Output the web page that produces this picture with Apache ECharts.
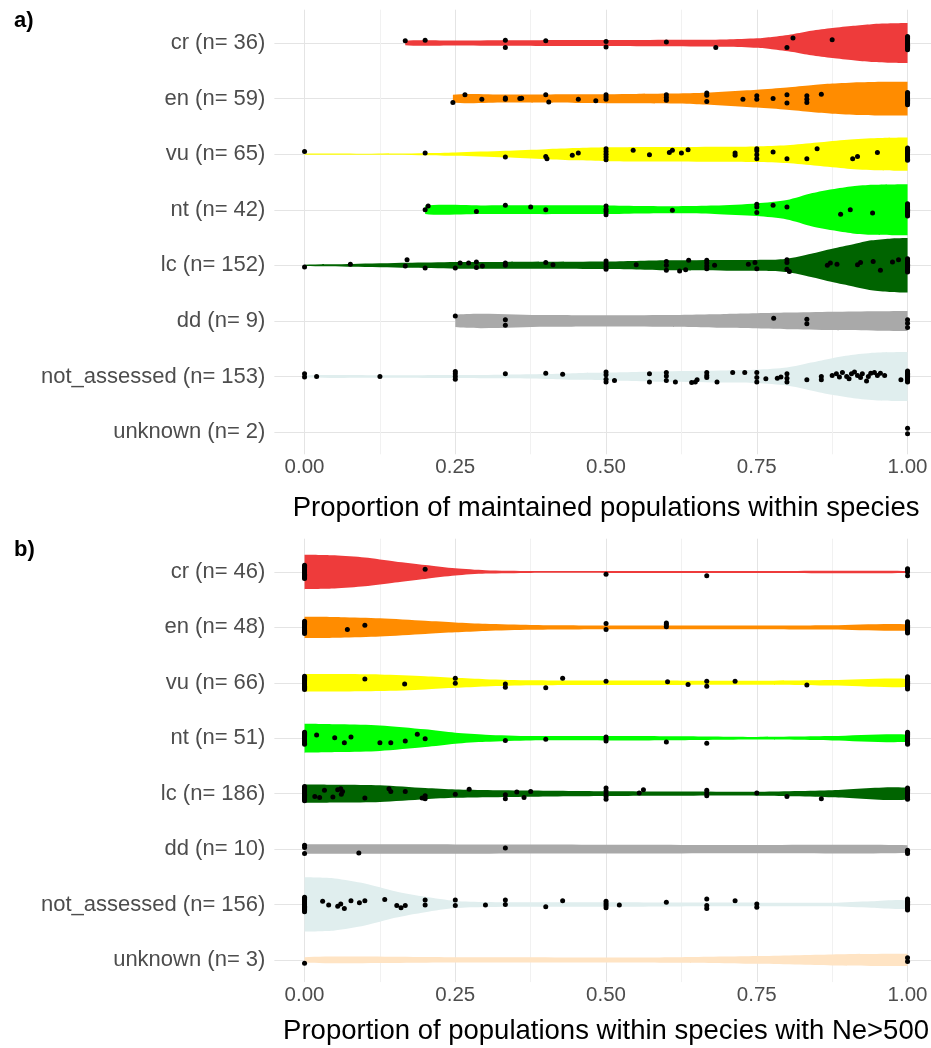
<!DOCTYPE html>
<html><head><meta charset="utf-8">
<script src="https://cdn.jsdelivr.net/npm/echarts@6/dist/echarts.min.js"></script>
<style>html,body{margin:0;padding:0;background:#fff}#c{width:931px;height:1048px}</style>
</head><body><div id="c"></div>
<script>
// ---------- categories / labels ----------
const catsA = ['cr (n= 36)','en (n= 59)','vu (n= 65)','nt (n= 42)','lc (n= 152)','dd (n= 9)','not_assessed (n= 153)','unknown (n= 2)'];
const catsB = ['cr (n= 46)','en (n= 48)','vu (n= 66)','nt (n= 51)','lc (n= 186)','dd (n= 10)','not_assessed (n= 156)','unknown (n= 3)'];
const catColors = ['#EE3B3B','#FF8C00','#FFFF00','#00FF00','#006400','#A9A9A9','#E0EEEE','#FFE4C4'];
const xTitleA = 'Proportion of maintained populations within species';
const xTitleB = 'Proportion of populations within species with Ne>500';
const xTickValues = [0, 0.25, 0.5, 0.75, 1];

// ---------- violin outlines: [x, half-width in row units] ----------
const violinA_cr = [[0.167,0.04],[0.25,0.045],[0.333,0.05],[0.45,0.055],[0.55,0.057],[0.65,0.06],[0.7,0.065],[0.75,0.085],[0.775,0.11],[0.81,0.16],[0.84,0.22],[0.875,0.27],[0.91,0.31],[0.94,0.34],[0.975,0.355],[1,0.36]];
const violinA_en = [[0.246,0.07],[0.333,0.072],[0.45,0.078],[0.55,0.085],[0.65,0.1],[0.75,0.16],[0.8,0.2],[0.84,0.24],[0.875,0.27],[0.92,0.295],[0.96,0.305],[1,0.305]];
const violinA_vu = [[0,0.008],[0.1,0.01],[0.2,0.018],[0.25,0.03],[0.333,0.06],[0.4,0.09],[0.45,0.11],[0.5,0.125],[0.6,0.13],[0.7,0.135],[0.75,0.14],[0.8,0.16],[0.85,0.21],[0.9,0.26],[0.95,0.29],[1,0.3]];
const violinA_nt = [[0.2,0.075],[0.3,0.078],[0.4,0.08],[0.5,0.078],[0.56,0.068],[0.62,0.064],[0.68,0.075],[0.75,0.114],[0.8,0.174],[0.842,0.3],[0.875,0.37],[0.909,0.425],[0.942,0.45],[1,0.46]];
const violinA_lc = [[0,0.012],[0.08,0.025],[0.17,0.045],[0.25,0.06],[0.333,0.062],[0.5,0.067],[0.6,0.09],[0.7,0.097],[0.77,0.1],[0.8,0.12],[0.84,0.21],[0.875,0.3],[0.91,0.38],[0.94,0.45],[0.97,0.48],[1,0.49]];
const violinA_dd = [[0.25,0.11],[0.4,0.105],[0.5,0.1],[0.6,0.105],[0.7,0.125],[0.8,0.15],[0.875,0.165],[0.95,0.175],[1,0.18]];
const violinA_na = [[0,0.02],[0.125,0.022],[0.25,0.027],[0.333,0.033],[0.4,0.045],[0.45,0.06],[0.5,0.07],[0.6,0.095],[0.7,0.11],[0.75,0.12],[0.8,0.16],[0.84,0.25],[0.875,0.33],[0.91,0.39],[0.95,0.43],[1,0.44]];
const violinA_unk = [];

const violinB_cr = [[0,0.31],[0.05,0.3],[0.1,0.26],[0.15,0.19],[0.2,0.125],[0.25,0.065],[0.3,0.03],[0.375,0.017],[0.5,0.018],[0.75,0.018],[1,0.018]];
const violinB_en = [[0,0.19],[0.06,0.185],[0.125,0.165],[0.2,0.12],[0.25,0.09],[0.3,0.065],[0.375,0.045],[0.5,0.035],[0.6,0.032],[0.75,0.033],[0.875,0.04],[1,0.055]];
const violinB_vu = [[0,0.16],[0.06,0.158],[0.125,0.15],[0.2,0.12],[0.25,0.09],[0.3,0.065],[0.375,0.045],[0.5,0.04],[0.625,0.038],[0.75,0.036],[0.875,0.05],[1,0.07]];
const violinB_nt = [[0,0.26],[0.06,0.25],[0.125,0.23],[0.2,0.16],[0.25,0.1],[0.3,0.065],[0.375,0.04],[0.5,0.04],[0.625,0.036],[0.75,0.024],[0.875,0.04],[1,0.065]];
const violinB_lc = [[0,0.165],[0.06,0.16],[0.125,0.15],[0.2,0.1],[0.25,0.075],[0.375,0.055],[0.5,0.042],[0.625,0.038],[0.75,0.036],[0.875,0.063],[1,0.105]];
const violinB_dd = [[0,0.085],[0.25,0.083],[0.5,0.08],[0.75,0.075],[1,0.07]];
const violinB_na = [[0,0.49],[0.05,0.47],[0.1,0.38],[0.15,0.24],[0.2,0.14],[0.25,0.065],[0.3,0.045],[0.375,0.04],[0.5,0.04],[0.625,0.035],[0.75,0.033],[0.875,0.033],[0.94,0.06],[1,0.072]];
const violinB_unk = [[0,0.05],[0.25,0.048],[0.5,0.045],[0.625,0.05],[0.75,0.07],[0.875,0.1],[1,0.11]];

// ---------- jittered points: [x, vertical jitter in row units] ----------
const ptsA_cr = [[0.167,0.04],[0.2,0.05],[0.333,0.05],[0.333,-0.08],[0.4,0.04],[0.5,0.03],[0.5,-0.07],[0.6,0.02],[0.682,-0.08],[0.8,-0.08],[0.81,0.09],[0.875,0.06],[1,0.12],[1,0.1],[1,0.08],[1,0.06],[1,0.04],[1,0.02],[1,0],[1,-0.02],[1,-0.04],[1,-0.06],[1,-0.08],[1,-0.1],[1,-0.12]];
const ptsA_en = [[0.246,-0.07],[0.266,0.07],[0.294,-0.01],[0.333,-0.01],[0.333,0.01],[0.357,0],[0.36,0.005],[0.4,0.07],[0.405,-0.06],[0.454,-0.01],[0.483,-0.04],[0.5,0.07],[0.5,0.03],[0.5,-0.01],[0.6,0.07],[0.6,0.02],[0.6,-0.03],[0.667,0.1],[0.667,0.06],[0.667,-0.05],[0.727,-0.01],[0.75,0.05],[0.75,-0.01],[0.777,0],[0.8,0.07],[0.8,-0.08],[0.833,0.05],[0.833,-0.01],[0.833,-0.07],[0.857,0.08],[1,0.11],[1,0.09],[1,0.07],[1,0.05],[1,0.03],[1,0.01],[1,-0.01],[1,-0.03],[1,-0.05],[1,-0.07],[1,-0.09],[1,-0.11]];
const ptsA_vu = [[0,0.05],[0.2,0.02],[0.333,-0.05],[0.4,-0.04],[0.402,-0.08],[0.444,-0.02],[0.454,0.02],[0.5,0.1],[0.5,0.05],[0.5,0],[0.5,-0.05],[0.5,-0.1],[0.545,0.07],[0.572,-0.01],[0.605,0.03],[0.61,0.07],[0.625,0.02],[0.636,0.08],[0.714,0.02],[0.714,-0.02],[0.75,0.1],[0.75,0.06],[0.75,-0.01],[0.75,-0.08],[0.777,0.04],[0.8,-0.08],[0.833,-0.08],[0.85,0.1],[0.909,-0.08],[0.917,-0.04],[0.95,0.03],[1,0.11],[1,0.09],[1,0.07],[1,0.05],[1,0.03],[1,0.01],[1,-0.01],[1,-0.03],[1,-0.05],[1,-0.07],[1,-0.09],[1,-0.11]];
const ptsA_nt = [[0.2,0],[0.205,0.07],[0.285,-0.03],[0.333,0.08],[0.375,0.05],[0.4,0],[0.5,0.07],[0.5,0.01],[0.5,-0.03],[0.5,-0.09],[0.61,-0.01],[0.75,0.1],[0.75,0.05],[0.75,-0.05],[0.777,0.08],[0.8,0.05],[0.889,-0.08],[0.905,0],[0.942,-0.06],[1,0.11],[1,0.09],[1,0.07],[1,0.05],[1,0.03],[1,0.01],[1,-0.01],[1,-0.03],[1,-0.05],[1,-0.07],[1,-0.09],[1,-0.11]];
const ptsA_lc = [[0,-0.03],[0.076,0.02],[0.167,-0.01],[0.17,0.1],[0.2,-0.05],[0.25,-0.05],[0.258,0.04],[0.272,0.04],[0.285,0.06],[0.285,-0.04],[0.295,-0.01],[0.333,0.04],[0.333,0],[0.4,0.05],[0.412,0.01],[0.5,0.08],[0.5,0.03],[0.5,-0.02],[0.5,-0.07],[0.55,0.01],[0.6,0.07],[0.6,0],[0.6,-0.09],[0.622,-0.1],[0.632,-0.08],[0.637,0.09],[0.667,0.09],[0.667,0.04],[0.667,-0.01],[0.667,-0.06],[0.68,0],[0.736,0.02],[0.747,0.05],[0.75,-0.06],[0.8,0.1],[0.8,0.05],[0.8,-0.07],[0.804,-0.11],[0.867,0],[0.872,0.04],[0.883,0.02],[0.917,0.01],[0.922,0.05],[0.943,0.07],[0.955,-0.09],[0.975,0.06],[0.985,0.1],[1,0.12],[1,0.1],[1,0.08],[1,0.06],[1,0.04],[1,0.02],[1,0],[1,-0.02],[1,-0.04],[1,-0.06],[1,-0.08],[1,-0.1],[1,-0.12]];
const ptsA_dd = [[0.25,0.09],[0.333,0.02],[0.333,-0.08],[0.778,0.05],[0.833,0.03],[0.833,-0.05],[1,0.02],[1,-0.04],[1,-0.12]];
const ptsA_na = [[0,0.05],[0,-0.01],[0.02,0],[0.125,0],[0.25,0.09],[0.25,0.05],[0.25,0],[0.25,-0.05],[0.333,0.05],[0.4,0.06],[0.428,0.04],[0.5,0.08],[0.5,0.03],[0.5,-0.05],[0.5,-0.1],[0.514,-0.07],[0.572,0.05],[0.572,-0.1],[0.6,0.07],[0.6,0.01],[0.6,-0.07],[0.615,-0.1],[0.642,-0.11],[0.648,-0.1],[0.651,-0.06],[0.667,0.07],[0.667,0.02],[0.667,-0.02],[0.684,-0.1],[0.71,0.07],[0.73,0.07],[0.75,0.07],[0.75,-0.02],[0.75,-0.1],[0.765,-0.04],[0.784,-0.03],[0.79,-0.01],[0.8,0.05],[0.8,-0.03],[0.8,-0.1],[0.833,-0.06],[0.857,-0.06],[0.857,0],[0.875,0.02],[0.882,0.05],[0.887,-0.01],[0.892,0.07],[0.899,0],[0.903,-0.04],[0.907,0.05],[0.912,0.08],[0.917,0.02],[0.922,-0.02],[0.925,0.05],[0.932,-0.08],[0.935,0],[0.939,0.06],[0.945,0.07],[0.95,0.02],[0.955,0.06],[0.962,0.02],[0.989,-0.06],[1,0.1],[1,0.08],[1,0.06],[1,0.04],[1,0.02],[1,0],[1,-0.02],[1,-0.04],[1,-0.06],[1,-0.08],[1,-0.1]];
const ptsA_unk = [[1,0.07],[1,-0.03]];

const ptsB_cr = [[0,0.12],[0,0.1],[0,0.08],[0,0.06],[0,0.04],[0,0.02],[0,0],[0,-0.02],[0,-0.04],[0,-0.06],[0,-0.08],[0,-0.1],[0,-0.12],[0.2,0.05],[0.5,-0.04],[0.667,-0.07],[1,0.06],[1,0.04],[1,0],[1,-0.07]];
const ptsB_en = [[0,0.11],[0,0.09],[0,0.07],[0,0.05],[0,0.03],[0,0.01],[0,-0.01],[0,-0.03],[0,-0.05],[0,-0.07],[0,-0.09],[0,-0.11],[0.071,-0.04],[0.1,0.04],[0.5,0.07],[0.5,-0.04],[0.6,0.08],[0.6,0.05],[0.6,0.01],[1,0.1],[1,0.08],[1,0.06],[1,0.04],[1,0.02],[1,0],[1,-0.02],[1,-0.04],[1,-0.06],[1,-0.08],[1,-0.1]];
const ptsB_vu = [[0,0.12],[0,0.1],[0,0.08],[0,0.06],[0,0.04],[0,0.02],[0,0],[0,-0.02],[0,-0.04],[0,-0.06],[0,-0.08],[0,-0.1],[0,-0.12],[0.1,0.07],[0.166,-0.02],[0.25,0.08],[0.25,-0.01],[0.333,-0.02],[0.333,-0.08],[0.4,-0.09],[0.428,0.08],[0.5,0.03],[0.602,0.02],[0.636,-0.03],[0.667,0.03],[0.667,-0.06],[0.714,0.03],[0.833,-0.04],[1,0.11],[1,0.09],[1,0.07],[1,0.05],[1,0.03],[1,0.01],[1,-0.01],[1,-0.03],[1,-0.05],[1,-0.07],[1,-0.09],[1,-0.11]];
const ptsB_nt = [[0,0.11],[0,0.09],[0,0.07],[0,0.05],[0,0.03],[0,0.01],[0,-0.01],[0,-0.03],[0,-0.05],[0,-0.07],[0,-0.09],[0,-0.11],[0.02,0.06],[0.05,0.01],[0.066,-0.08],[0.077,0.02],[0.125,-0.08],[0.143,-0.08],[0.167,-0.05],[0.187,0.07],[0.2,-0.01],[0.333,-0.04],[0.4,-0.02],[0.5,0.02],[0.5,-0.01],[0.5,-0.05],[0.6,-0.07],[0.667,-0.09],[1,0.11],[1,0.09],[1,0.07],[1,0.05],[1,0.03],[1,0.01],[1,-0.01],[1,-0.03],[1,-0.05],[1,-0.07],[1,-0.09],[1,-0.11]];
const ptsB_lc = [[0,0.13],[0,0.11],[0,0.09],[0,0.07],[0,0.05],[0,0.03],[0,0.01],[0,-0.01],[0,-0.03],[0,-0.05],[0,-0.07],[0,-0.09],[0,-0.11],[0,-0.13],[0.017,-0.05],[0.025,-0.07],[0.033,0.06],[0.047,-0.06],[0.055,0.07],[0.06,0.09],[0.063,0.04],[0.061,-0.01],[0.1,-0.08],[0.14,0.09],[0.143,0.04],[0.167,0.04],[0.195,-0.08],[0.2,-0.04],[0.2,-0.09],[0.25,-0.01],[0.273,0.08],[0.333,-0.02],[0.333,-0.09],[0.352,0.03],[0.364,-0.07],[0.375,0.04],[0.5,0.1],[0.5,0.05],[0.5,0],[0.5,-0.05],[0.5,-0.1],[0.555,0.01],[0.562,0.07],[0.667,0.06],[0.667,0.01],[0.667,-0.04],[0.75,0.01],[0.8,-0.05],[0.857,-0.09],[1,0.1],[1,0.08],[1,0.06],[1,0.04],[1,0.02],[1,0],[1,-0.02],[1,-0.04],[1,-0.06],[1,-0.08],[1,-0.1]];
const ptsB_dd = [[0,0.07],[0,0.03],[0,-0.08],[0.09,-0.07],[0.333,0.02],[1,-0.02],[1,-0.05],[1,-0.08]];
const ptsB_na = [[0,0.13],[0,0.11],[0,0.09],[0,0.07],[0,0.05],[0,0.03],[0,0.01],[0,-0.01],[0,-0.03],[0,-0.05],[0,-0.07],[0,-0.09],[0,-0.11],[0,-0.13],[0.03,0.06],[0.04,-0.01],[0.055,-0.03],[0.06,0.01],[0.066,-0.07],[0.077,0.07],[0.091,0.03],[0.1,0.07],[0.133,0.09],[0.153,-0.02],[0.16,-0.06],[0.167,-0.02],[0.2,0.08],[0.2,-0.01],[0.25,0.08],[0.25,-0.02],[0.3,-0.01],[0.333,0.08],[0.333,0],[0.4,-0.04],[0.428,0.07],[0.5,0.06],[0.5,0.02],[0.5,-0.02],[0.5,-0.06],[0.522,-0.01],[0.6,0.04],[0.667,0.1],[0.667,-0.02],[0.667,-0.07],[0.714,0.07],[0.75,0.01],[0.75,-0.05],[1,0.1],[1,0.08],[1,0.06],[1,0.04],[1,0.02],[1,0],[1,-0.02],[1,-0.04],[1,-0.06],[1,-0.08],[1,-0.1]];
const ptsB_unk = [[0,-0.06],[1,0.04],[1,-0.03]];

// ---------- assembly ----------
const violinsA = [violinA_cr, violinA_en, violinA_vu, violinA_nt, violinA_lc, violinA_dd, violinA_na, violinA_unk];
const violinsB = [violinB_cr, violinB_en, violinB_vu, violinB_nt, violinB_lc, violinB_dd, violinB_na, violinB_unk];
const pointsA = [ptsA_cr, ptsA_en, ptsA_vu, ptsA_nt, ptsA_lc, ptsA_dd, ptsA_na, ptsA_unk];
const pointsB = [ptsB_cr, ptsB_en, ptsB_vu, ptsB_nt, ptsB_lc, ptsB_dd, ptsB_na, ptsB_unk];

const FONT = "'Liberation Sans', Arial, sans-serif";
const NROW = 8;
const T = 'rgba(0,0,0,0)';
const MAJ = '#E4E4E4', MIN = '#F1F1F1';
// x ticks every 0.025 from -0.05: index%10==2 -> major (0,0.25..), ==7 -> minor (0.125..)
const xGridColors = [T, T, MAJ, T, T, T, T, MIN, T, T];
// y ticks every 0.2 from 0.6: index%5==2 -> integer rows
const yGridColors = [T, T, MAJ, T, T];

const grids = [
  {left: 274.4, width: 663.3, top: 9.7, height: 444.6, outerBoundsMode: 'none', containLabel: false},
  {left: 274.4, width: 663.3, top: 538.7, height: 443.4, outerBoundsMode: 'none', containLabel: false}
];

function isTick(v) { return xTickValues.some(t => Math.abs(t - v) < 1e-6); }

function makeX(p, title, gap) {
  return {
    gridIndex: p, type: 'value', min: -0.05, max: 1.05, interval: 0.025,
    axisLine: {show: false}, axisTick: {show: false},
    splitLine: {show: true, lineStyle: {color: xGridColors, width: 1}},
    axisLabel: {margin: 3, color: '#4D4D4D', fontSize: 20.5, fontFamily: FONT,
      formatter: v => isTick(v) ? v.toFixed(2) : ''},
    name: title, nameLocation: 'middle', nameGap: gap,
    nameTextStyle: {fontSize: 27.5, color: '#000', fontFamily: FONT}
  };
}
function makeY(p, cats) {
  return {
    gridIndex: p, type: 'value', min: 0.6, max: 8.6, interval: 0.2,
    axisLine: {show: false}, axisTick: {show: false},
    splitLine: {show: true, lineStyle: {color: yGridColors, width: 1}},
    axisLabel: {margin: 9, color: '#4D4D4D', fontSize: 22, fontFamily: FONT,
      formatter: v => {
        const r = Math.round(v);
        if (Math.abs(v - r) < 1e-6 && r >= 1 && r <= NROW) return cats[NROW - r];
        return '';
      }}
  };
}

const series = [];
function addPanel(p, cats, violins, points) {
  series.push({
    type: 'custom', xAxisIndex: p, yAxisIndex: p, z: 2, silent: true,
    data: cats.map((c, i) => [i]),
    renderItem: (params, api) => {
      const i = params.dataIndex;
      const prof = violins[i];
      if (!prof || !prof.length) return null;
      const row = NROW - i;
      const pts = [];
      prof.forEach(d => pts.push(api.coord([d[0], row + d[1]])));
      for (let k = prof.length - 1; k >= 0; k--) pts.push(api.coord([prof[k][0], row - prof[k][1]]));
      let x0 = Infinity, y0 = Infinity, x1 = -Infinity, y1 = -Infinity;
      pts.forEach(q => { x0 = Math.min(x0, q[0]); y0 = Math.min(y0, q[1]); x1 = Math.max(x1, q[0]); y1 = Math.max(y1, q[1]); });
      return {type: 'polygon', shape: {points: pts, smooth: 0.25, smoothConstraint: [[x0, y0], [x1, y1]]},
        style: {fill: catColors[i]}};
    }
  });
  const data = [];
  points.forEach((arr, i) => arr.forEach(d => data.push([d[0], NROW - i + d[1]])));
  series.push({
    type: 'scatter', xAxisIndex: p, yAxisIndex: p, z: 3, silent: true,
    symbol: 'circle', symbolSize: 5, itemStyle: {color: '#000', opacity: 1},
    data: data
  });
}
addPanel(0, catsA, violinsA, pointsA);
addPanel(1, catsB, violinsB, pointsB);

const chart = echarts.init(document.getElementById('c'), null, {renderer: 'canvas'});
chart.setOption({
  animation: false,
  backgroundColor: '#fff',
  title: [
    {text: 'a)', left: 9, top: 5, textStyle: {fontSize: 22, fontWeight: 'bold', color: '#000', fontFamily: FONT}},
    {text: 'b)', left: 9, top: 534, textStyle: {fontSize: 22, fontWeight: 'bold', color: '#000', fontFamily: FONT}}
  ],
  grid: grids,
  xAxis: [makeX(0, xTitleA, 40), makeX(1, xTitleB, 35)],
  yAxis: [makeY(0, catsA), makeY(1, catsB)],
  series: series
});
</script>
</body></html>
